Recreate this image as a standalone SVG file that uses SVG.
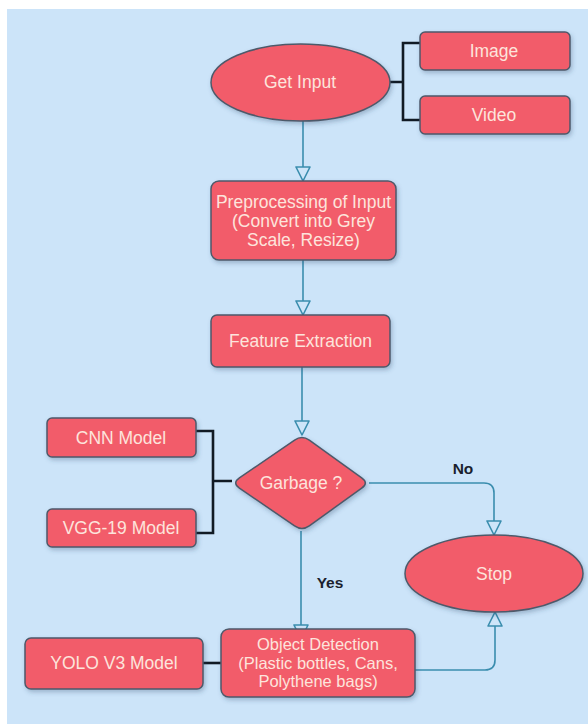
<svg xmlns="http://www.w3.org/2000/svg" width="588" height="724" viewBox="0 0 588 724">
<style>
.node{fill:#F25B6A;stroke:#4E5A6B;stroke-width:1.5;filter:url(#sh)}
.t{font-family:"Liberation Sans",Arial,sans-serif;font-size:17.5px;fill:#FDE4DC;text-anchor:middle}
.s{font-size:16.5px}
.lbl{font-family:"Liberation Sans",Arial,sans-serif;font-size:15.5px;font-weight:bold;fill:#1B1F2E;text-anchor:middle}
.flow{fill:none;stroke:#3A8DAE;stroke-width:1.6}
.br{fill:none;stroke:#111A24;stroke-width:2.6}
</style>
<defs>
<marker id="arr" viewBox="0 0 16 16" refX="15" refY="8" markerWidth="16" markerHeight="16" markerUnits="userSpaceOnUse" orient="auto">
<path d="M1,1 L15,8 L1,15 Z" fill="#CDE5F9" stroke="#3A8DAE" stroke-width="1.6" stroke-linejoin="round"/>
</marker>
<filter id="sh" x="-20%" y="-20%" width="140%" height="150%">
<feDropShadow dx="1.5" dy="2.5" stdDeviation="2" flood-color="#2a4a6a" flood-opacity="0.3"/>
</filter>
</defs>
<rect width="588" height="724" fill="#FFFFFF"/>
<rect x="7" y="9" width="581" height="715" fill="#CCE4F9"/>
<g id="connectors">
<path class="flow" d="M303 121 V181" marker-end="url(#arr)"/>
<path class="flow" d="M303 260 V315" marker-end="url(#arr)"/>
<path class="flow" d="M302 367 V435" marker-end="url(#arr)"/>
<path class="flow" d="M369 483 H484 Q494 483 494 493 V535" marker-end="url(#arr)"/>
<path class="flow" d="M301 531 V639" marker-end="url(#arr)"/>
<path class="flow" d="M415 670 H485 Q495 670 495 660 V612" marker-end="url(#arr)"/>
<path class="br" d="M390 82 H403 M420 43 H403 V120 H420"/>
<path class="br" d="M196 431 H213 V533 H196 M213 481 H232"/>
<path class="br" d="M203 663 H221"/>
<text class="lbl" x="463" y="474">No</text>
<text class="lbl" x="330" y="588">Yes</text>
</g>
<g id="get-input">
<ellipse class="node" cx="300.5" cy="82.5" rx="89.5" ry="38.5"/>
<text class="t" x="300" y="88">Get Input</text>
</g>
<g id="image">
<rect class="node" x="420" y="32" width="150" height="38" rx="5"/>
<text class="t" x="494" y="57">Image</text>
</g>
<g id="video">
<rect class="node" x="420" y="96" width="150" height="38" rx="5"/>
<text class="t" x="494" y="121">Video</text>
</g>
<g id="preprocessing">
<rect class="node" x="211" y="181" width="185" height="79" rx="8"/>
<text class="t" x="303.5" y="208">Preprocessing of Input</text>
<text class="t" x="303.5" y="227">(Convert into Grey</text>
<text class="t" x="303.5" y="246">Scale, Resize)</text>
</g>
<g id="feature-extraction">
<rect class="node" x="211" y="315" width="179" height="52" rx="6"/>
<text class="t" x="300.5" y="347">Feature Extraction</text>
</g>
<g id="cnn-model">
<rect class="node" x="47" y="418" width="149" height="39" rx="5"/>
<text class="t" x="121" y="444">CNN Model</text>
</g>
<g id="vgg19-model">
<rect class="node" x="47" y="509" width="149" height="38" rx="5"/>
<text class="t" x="121" y="534">VGG-19 Model</text>
</g>
<g id="garbage">
<path class="node" d="M294.6 440.1 Q302 435 309.3 440.2 L361.7 477.8 Q369 483 361.7 488.2 L309.3 525.8 Q302 531 294.6 525.9 L239.4 488.1 Q232 483 239.4 477.9 Z"/>
<text class="t" x="301" y="489">Garbage ?</text>
</g>
<g id="stop">
<ellipse class="node" cx="494" cy="573.5" rx="89" ry="38.5"/>
<text class="t" x="494" y="580">Stop</text>
</g>
<g id="yolo">
<rect class="node" x="25" y="638" width="178" height="51" rx="6"/>
<text class="t" x="114" y="669">YOLO V3 Model</text>
</g>
<g id="object-detection">
<rect class="node" x="221" y="629" width="194" height="68" rx="8"/>
<text class="t s" x="318" y="650">Object Detection</text>
<text class="t s" x="318" y="668.5">(Plastic bottles, Cans,</text>
<text class="t s" x="318" y="687">Polythene bags)</text>
</g>
</svg>
